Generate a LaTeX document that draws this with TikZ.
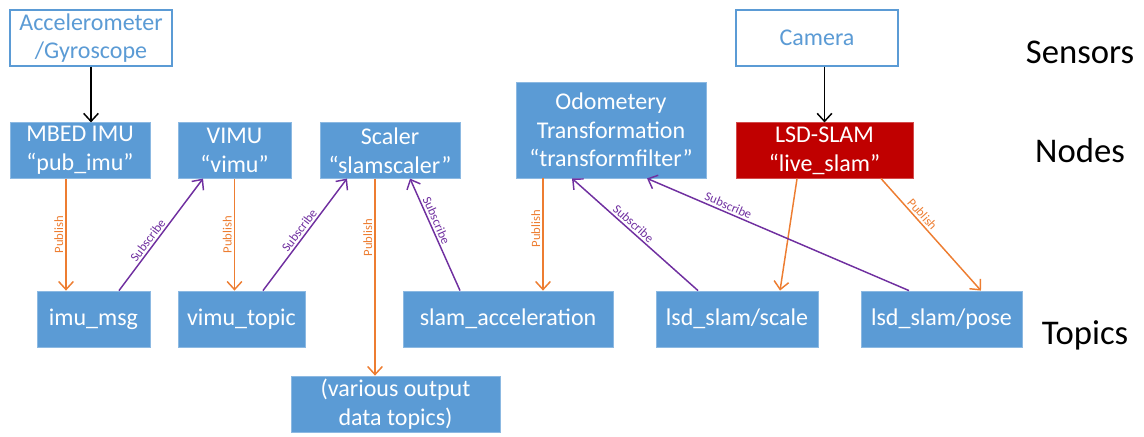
\documentclass[tikz,border=0pt]{standalone}
\usepackage{fontspec}
\setmainfont{Carlito}
\usetikzlibrary{arrows.meta,calc,positioning}

\definecolor{rosblue}{HTML}{5B9BD5}
\definecolor{rosred}{HTML}{C00000}
\definecolor{puborange}{HTML}{ED7D31}
\definecolor{subpurple}{HTML}{7030A0}

\begin{document}
\begin{tikzpicture}[x=0.75pt,y=-0.75pt]

\tikzset{sensor/.style={fill=white,draw=rosblue,line width=1.1pt,text=rosblue,inner sep=0pt,minimum width=121.5pt,minimum height=42pt,align=center,font=\fontsize{18}{21}\selectfont},
rosnode/.style={fill=rosblue,draw=rosblue!70!white,line width=0.6pt,text=white,inner sep=0pt,minimum height=41.5pt,align=center,font=\fontsize{18}{21.5}\selectfont},
slamnode/.style={rosnode,fill=rosred,draw=rosred!70!white},
topic/.style={rosnode,minimum height=42pt},
layer/.style={inner sep=0pt,font=\fontsize{26}{30}\selectfont},
feed/.style={-{Straight Barb[length=6pt,width=11pt]},line width=1.1pt},
publish/.style={feed,draw=puborange},
subscribe/.style={feed,draw=subpurple},
publabel/.style={inner sep=1.5pt,text=puborange,font=\fontsize{9.5}{10}\selectfont},
sublabel/.style={inner sep=1.5pt,text=subpurple,font=\fontsize{9.5}{10}\selectfont}}

\useasboundingbox (0,0) rectangle (1144,436);

% Sensors
\node (acc) [sensor] at (91,38) {Accelerometer\\/Gyroscope};
\node (cam) [sensor] at (817,38) {Camera};

% ROS nodes
\node (imu) [rosnode,minimum width=105pt] at (80,150.5) {MBED IMU\\“pub\_imu”};
\node (vimu) [rosnode,minimum width=84.75pt] at (234.5,150.5) {VIMU\\“vimu”};
\node (scaler) [rosnode,minimum width=105pt] at (390,150.5) {Scaler\\“slamscaler”};
\node (odom) [rosnode,minimum width=142.5pt,minimum height=72pt] at (611,130) {Odometery\\Transformation\\“transformfilter”};
\node (lsd) [slamnode,minimum width=132.75pt] at (824.5,150.5) {LSD-SLAM\\“live\_slam”};

% Topics
\node (imumsg) [topic,minimum width=84.75pt] at (93.5,319) {imu\_msg};
\node (vimutopic) [topic,minimum width=95.25pt] at (241.5,319) {vimu\_topic};
\node (slamacc) [topic,minimum width=157.5pt] at (508,319) {slam\_acceleration};
\node (lsdscale) [topic,minimum width=121.5pt] at (737,319) {lsd\_slam/scale};
\node (lsdpose) [topic,minimum width=120.75pt] at (941.5,319) {lsd\_slam/pose};
\node (various) [topic,minimum width=156.75pt] at (395.5,404) {(various output\\data topics)};

% Layer names
\node (sensors) [layer] at (1080,52) {Sensors};
\node (nodes) [layer] at (1080,151) {Nodes};
\node (topics) [layer] at (1085,335) {Topics};

% Sensor inputs
\draw [feed] (acc.south) -- (acc.south |- imu.north);
\draw [feed] (cam.south -| lsd.north) -- (lsd.north);

% Publish arrows
\draw [publish] ([xshift=-10.5pt]imu.south) -- ([xshift=-10.5pt]imu.south |- imumsg.north)
  node [publabel,midway,rotate=90,above] {Publish};
\draw [publish] (vimu.south) -- (vimu.south |- vimutopic.north)
  node [publabel,midway,rotate=90,above] {Publish};
\draw [publish] ([xshift=-11.25pt]scaler.south) -- ([xshift=-11.25pt]scaler.south |- various.north)
  node [publabel,pos=0.3,rotate=90,above] {Publish};
\draw [publish] ([xshift=-51pt]odom.south) -- ([xshift=-51pt]odom.south |- slamacc.north)
  node [publabel,pos=0.45,rotate=90,above] {Publish};
\draw [publish] ([xshift=-20.6pt]lsd.south) -- ([xshift=32.25pt]lsdscale.north);
\draw [publish] ([xshift=42.4pt]lsd.south) -- ([xshift=29.6pt]lsdpose.north)
  node [publabel,pos=0.36,sloped,above] {Publish};

% Subscribe arrows
\draw [subscribe] ([xshift=19.1pt]imumsg.north) -- ([xshift=-23.6pt]vimu.south)
  node [sublabel,pos=0.41,sloped,above] {Subscribe};
\draw [subscribe] ([xshift=16.1pt]vimutopic.north) -- ([xshift=-32.25pt]scaler.south)
  node [sublabel,midway,sloped,above] {Subscribe};
\draw [subscribe] ([xshift=-36pt]slamacc.north) -- ([xshift=15pt]scaler.south)
  node [sublabel,pos=0.6,sloped,above] {Subscribe};
\draw [subscribe] ([xshift=-29.25pt]lsdscale.north) -- ([xshift=-29.25pt]odom.south)
  node [sublabel,pos=0.55,sloped,above] {Subscribe};
\draw [subscribe] ([xshift=-24.4pt]lsdpose.north) -- ([xshift=27pt]odom.south)
  node [sublabel,pos=0.7,sloped,above] {Subscribe};

\end{tikzpicture}
\end{document}
